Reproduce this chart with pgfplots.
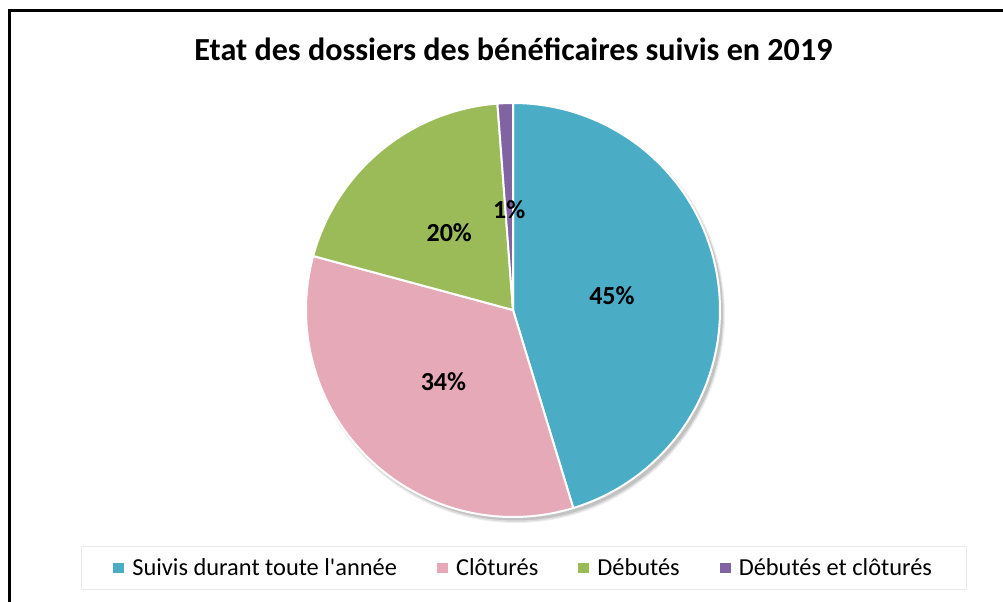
\documentclass[border=0pt]{standalone}
\usepackage{pgfplots}
\usepackage{pgfplotstable}
\pgfplotsset{compat=1.18}
\usepackage{fontspec}
\setmainfont{Carlito}
\definecolor{cA}{HTML}{4BACC6}
\definecolor{cB}{HTML}{E6A9B8}
\definecolor{cC}{HTML}{9BBB59}
\definecolor{cD}{HTML}{8064A2}

\pgfplotstableread{
label value
Suivis 45.3
Clotures 33.9
Debutes 19.6
DebClot 1.2
}\piedata

\pgfplotstablegetelem{0}{value}\of\piedata \let\vA\pgfplotsretval
\pgfplotstablegetelem{1}{value}\of\piedata \let\vB\pgfplotsretval
\pgfplotstablegetelem{2}{value}\of\piedata \let\vC\pgfplotsretval
\pgfplotstablegetelem{3}{value}\of\piedata \let\vD\pgfplotsretval
\pgfmathsetmacro\tot{\vA+\vB+\vC+\vD}
\pgfmathsetmacro\sA{0}
\pgfmathsetmacro\eA{\sA+360*\vA/\tot}
\pgfmathsetmacro\eB{\eA+360*\vB/\tot}
\pgfmathsetmacro\eC{\eB+360*\vC/\tot}
\pgfmathsetmacro\eD{\eC+360*\vD/\tot}
% centre and radius in pixel units
\def\cx{513}\def\cy{291}\def\R{207}\def\rl{100}
\pgfmathsetmacro\xA{\cx+\rl*sin((\sA+\eA)/2)}\pgfmathsetmacro\yA{\cy+\rl*cos((\sA+\eA)/2)}
\pgfmathsetmacro\xB{\cx+\rl*sin((\eA+\eB)/2)}\pgfmathsetmacro\yB{\cy+\rl*cos((\eA+\eB)/2)}
\pgfmathsetmacro\xC{\cx+\rl*sin((\eB+\eC)/2)}\pgfmathsetmacro\yC{\cy+\rl*cos((\eB+\eC)/2)}
\pgfmathsetmacro\xD{\cx+\rl*sin((\eC+\eD)/2)}\pgfmathsetmacro\yD{\cy+\rl*cos((\eC+\eD)/2)}
\pgfmathtruncatemacro\pA{round(100*\vA/\tot)}
\pgfmathtruncatemacro\pB{round(100*\vB/\tot)}
\pgfmathtruncatemacro\pC{round(100*\vC/\tot)}
\pgfmathtruncatemacro\pD{round(100*\vD/\tot)}

\begin{document}
\begin{tikzpicture}
\begin{axis}[
  width=752.25pt, height=450.75pt, scale only axis,
  xmin=0, xmax=1003, ymin=0, ymax=601,
  hide axis, clip=false,
  title={\bfseries Etat des dossiers des bénéficaires suivis en 2019},
  title style={at={(axis cs:513.5,532)}, anchor=base, font=\fontsize{24.1pt}{28pt}\selectfont, inner sep=0pt},
  legend columns=4,
  legend style={at={(axis cs:524,33)}, anchor=center, draw=black!8, line width=0.75pt,
    font=\fontsize{18.3pt}{22pt}\selectfont,
    inner xsep=24pt, inner ysep=7pt,
    /tikz/every even column/.append style={column sep=28pt},
    /tikz/every odd column/.append style={column sep=0pt},
    legend cell align=left},
  legend image code/.code={\path[#1,draw=none] (0pt,-4.1pt) rectangle (8.25pt,4.1pt); \path (11.5pt,0pt);},
]
% frame
\draw[black, line width=2.25pt] (axis cs:9.5,-20) -- (axis cs:9.5,590.5) -- (axis cs:1030,590.5);
% shadow
\fill[black, opacity=0.06] (axis cs:\cx+3,\cy-4) circle[radius=\R+2];
\fill[black, opacity=0.08] (axis cs:\cx+3,\cy-4) circle[radius=\R+1];
\fill[black, opacity=0.12] (axis cs:\cx+3,\cy-3.5) circle[radius=\R];

\addplot[fill=cA, draw=white, line width=1.5pt, domain=\sA:\eA, samples=120, variable=\t]
  ({\cx+\R*sin(\t)},{\cy+\R*cos(\t)}) -- (axis cs:\cx,\cy) -- cycle;
\addlegendentry{Suivis durant toute l\textquotesingle année}
\addplot[fill=cB, draw=white, line width=1.5pt, domain=\eA:\eB, samples=100, variable=\t]
  ({\cx+\R*sin(\t)},{\cy+\R*cos(\t)}) -- (axis cs:\cx,\cy) -- cycle;
\addlegendentry{Clôturés}
\addplot[fill=cC, draw=white, line width=1.5pt, domain=\eB:\eC, samples=80, variable=\t]
  ({\cx+\R*sin(\t)},{\cy+\R*cos(\t)}) -- (axis cs:\cx,\cy) -- cycle;
\addlegendentry{Débutés}
\addplot[fill=cD, draw=white, line width=1.5pt, domain=\eC:\eD, samples=10, variable=\t]
  ({\cx+\R*sin(\t)},{\cy+\R*cos(\t)}) -- (axis cs:\cx,\cy) -- cycle;
\addlegendentry{Débutés et clôturés}

\node[font=\fontsize{19.5pt}{23pt}\selectfont\bfseries] at (axis cs:\xA,\yA) {\pA\%};
\node[font=\fontsize{19.5pt}{23pt}\selectfont\bfseries] at (axis cs:\xB,\yB) {\pB\%};
\node[font=\fontsize{19.5pt}{23pt}\selectfont\bfseries] at (axis cs:\xC,\yC) {\pC\%};
\node[font=\fontsize{19.5pt}{23pt}\selectfont\bfseries] at (axis cs:\xD,\yD) {\pD\%};
\end{axis}
\pgfresetboundingbox
\useasboundingbox (current axis.south west) rectangle (current axis.north east);
\end{tikzpicture}
\end{document}
